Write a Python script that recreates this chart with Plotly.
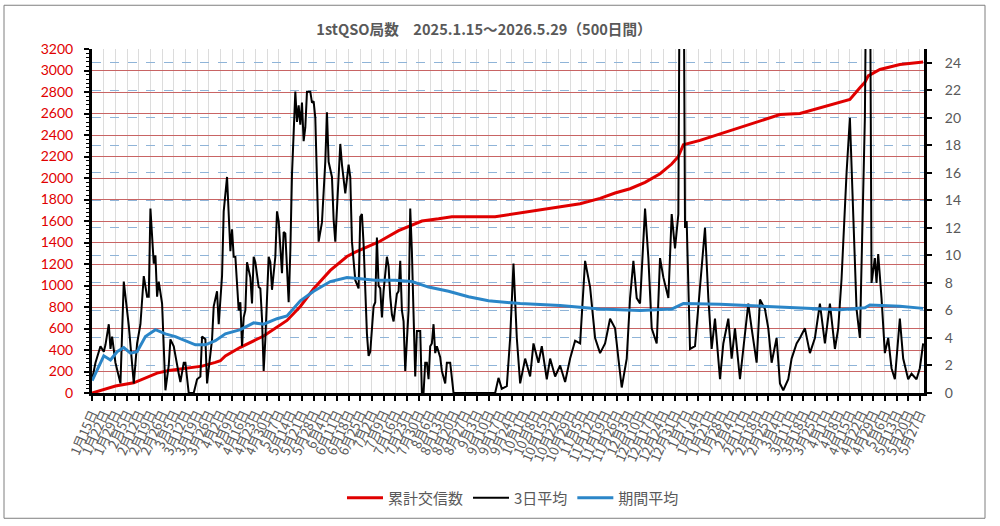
import pandas as pd
import plotly.graph_objects as go

START = pd.Timestamp("2025-01-15")
TITLE = "1stQSO局数　2025.1.15～2026.5.29（500日間）"

# 3日平均 (right axis), day offset from 2025-01-15
BLACK_DAY = [0, 2, 5, 7, 8, 10, 11, 12, 14, 17, 19, 22, 25, 27, 29, 31, 33, 34, 35, 37, 38, 39, 40, 42, 44, 46, 47, 49,
             52, 53, 55, 56, 58, 61, 63, 65, 66, 68, 69, 71, 72, 73, 75, 76, 78, 79, 81, 83, 84, 85, 86, 88, 89, 90, 91,
             92, 93, 95, 96, 97, 98, 100, 101, 102, 103, 104, 106, 107, 108, 110, 111, 112, 114, 115, 116, 118, 119, 120,
             122, 123, 124, 125, 126, 127, 128, 129, 131, 132, 133, 134, 135, 136, 138, 139, 140, 141, 142, 144, 145, 146,
             148, 149, 150, 152, 154, 155, 156, 157, 158, 160, 161, 162, 163, 165, 166, 167, 169, 170, 171, 172, 173, 174,
             175, 177, 178, 179, 180, 181, 183, 184, 185, 186, 187, 188, 190, 191, 192, 193, 194, 195, 197, 198, 199, 200,
             201, 202, 203, 204, 205, 206, 207, 209, 210, 212, 213, 215, 216, 217, 242, 244, 246, 249, 251, 253, 255, 257,
             260, 263, 265, 268, 270, 273, 275, 278, 281, 284, 287, 290, 293, 296, 299, 302, 305, 308, 311, 314, 316, 318,
             321, 323, 325, 327, 329, 332, 334, 336, 339, 341, 343, 346, 348, 350, 352, 353, 355, 356, 357, 359, 362, 365,
             368, 370, 372, 374, 377, 379, 382, 384, 386, 389, 391, 394, 396, 399, 401, 404, 406, 408, 411, 413, 415, 418,
             420, 423, 425, 428, 431, 434, 437, 440, 443, 446, 448, 450, 453, 455, 457, 459, 461, 463, 464, 465, 467, 468,
             470, 471, 472, 474, 476, 478, 480, 482, 485, 487, 490, 492, 495, 497, 499]
BLACK_VAL = [1.0, 2.2, 3.4, 3.0, 3.5, 5.0, 3.2, 4.1, 2.2, 0.7, 8.1, 4.9, 0.7, 3.6, 5.0, 8.5, 7.0, 7.0, 13.4, 9.4, 10.0,
             7.0, 8.1, 6.5, 0.2, 2.0, 3.9, 3.4, 1.4, 0.8, 2.2, 2.2, 0.0, 0.0, 1.0, 1.2, 4.1, 3.9, 0.7, 3.0, 3.9, 6.3, 7.4,
             5.0, 8.5, 13.2, 15.7, 10.3, 11.9, 9.9, 9.9, 6.0, 6.6, 3.4, 5.5, 6.0, 9.5, 8.4, 6.5, 9.9, 9.5, 7.7, 7.6, 5.4,
             1.6, 3.9, 9.9, 9.5, 7.5, 9.9, 13.2, 12.5, 8.7, 11.7, 11.6, 6.6, 10.3, 15.9, 21.9, 19.7, 20.9, 19.5, 21.1,
             18.3, 19.3, 21.9, 21.9, 21.1, 21.2, 20.0, 15.7, 11.0, 12.4, 14.3, 16.8, 20.4, 16.8, 15.7, 12.6, 11.0, 15.9,
             18.1, 16.6, 14.5, 16.6, 15.7, 11.0, 9.5, 8.2, 7.6, 12.8, 13.0, 10.8, 4.3, 2.7, 3.0, 6.3, 6.6, 11.3, 7.8, 7.6,
             5.5, 7.4, 9.9, 9.2, 7.0, 5.7, 5.2, 7.2, 7.4, 9.6, 6.0, 5.2, 1.6, 6.0, 13.4, 10.3, 5.7, 1.2, 4.5, 4.5, 0.0,
             0.0, 2.2, 2.2, 1.0, 3.4, 3.6, 5.0, 2.9, 3.4, 2.6, 1.6, 0.7, 2.2, 2.2, 1.0, 0.0, 0.0, 1.1, 0.3, 0.5, 4.0, 9.4,
             4.0, 0.7, 2.5, 1.2, 3.6, 2.2, 3.4, 1.0, 2.5, 1.2, 2.0, 0.8, 2.5, 3.8, 3.6, 9.6, 7.7, 4.0, 2.9, 3.6, 5.4, 4.7,
             2.5, 0.4, 2.5, 6.9, 9.6, 6.9, 6.5, 13.4, 9.8, 4.7, 3.6, 9.8, 8.4, 6.9, 13.0, 10.5, 13.0, 36.0, 36.0, 12.0,
             12.5, 3.2, 3.4, 7.7, 12.0, 6.9, 3.2, 5.4, 1.0, 3.6, 5.4, 2.5, 4.7, 1.0, 3.2, 6.5, 4.7, 2.2, 6.8, 6.1, 4.7,
             2.2, 4.0, 0.7, 0.2, 1.0, 2.5, 3.6, 4.0, 4.7, 2.9, 4.0, 6.5, 3.6, 6.5, 3.2, 4.7, 8.3, 16.0, 20.0, 13.0, 6.1,
             4.0, 14.0, 20.0, 34.0, 34.0, 8.0, 9.8, 8.0, 10.1, 6.9, 2.9, 4.0, 1.8, 1.0, 5.4, 2.5, 1.0, 1.4, 1.0, 1.8, 3.6]

# 累計交信数 (left axis)
CUM_DAY = [0, 14, 25, 32, 39, 46, 56, 66, 74, 77, 80, 89, 103, 117, 125, 133, 143, 153, 158, 161, 172, 184, 198, 208,
           216, 242, 251, 257, 275, 293, 305, 314, 323, 332, 341, 348, 352, 355, 365, 377, 392, 401, 413, 425, 437, 449,
           455, 461, 464, 466, 473, 485, 499]
CUM_VAL = [0, 65, 95, 140, 185, 210, 230, 250, 285, 300, 345, 425, 530, 675, 805, 970, 1140, 1270, 1310, 1330, 1405,
           1510, 1600, 1620, 1640, 1640, 1660, 1680, 1720, 1760, 1810, 1860, 1900, 1960, 2040, 2130, 2200, 2310, 2350,
           2410, 2480, 2530, 2590, 2600, 2650, 2700, 2730, 2840, 2890, 2950, 3010, 3055, 3080]

# 期間平均 (right axis)
AVG_DAY = [0, 4, 7, 11, 15, 19, 23, 27, 32, 38, 44, 50, 56, 62, 68, 74, 80, 89, 97, 103, 111, 117, 125, 133, 143, 153,
           161, 170, 182, 192, 202, 214, 226, 238, 257, 281, 305, 329, 348, 355, 377, 401, 425, 449, 464, 467, 485, 499]
AVG_VAL = [0.9, 2.0, 2.7, 2.4, 3.0, 3.3, 2.9, 3.0, 4.1, 4.6, 4.3, 4.1, 3.8, 3.5, 3.5, 3.8, 4.3, 4.6, 5.1, 5.0, 5.4, 5.6,
           6.7, 7.4, 8.1, 8.4, 8.3, 8.2, 8.2, 8.1, 7.7, 7.4, 7.0, 6.7, 6.5, 6.35, 6.1, 6.0, 6.1, 6.5, 6.45, 6.3, 6.15,
           6.05, 6.2, 6.4, 6.3, 6.15]

TICK_DATES = list(pd.date_range("2025-01-15", "2026-05-27", freq="7D"))
TICK_TEXT = [f"{d.month}月{d.day}日" for d in TICK_DATES]


def to_dates(days):
    return [START + pd.Timedelta(days=d) for d in days]


JP = "Noto Sans CJK JP"
GRAY = "#595959"

fig = go.Figure()
fig.add_trace(go.Scatter(x=to_dates(CUM_DAY), y=CUM_VAL, name="累計交信数", mode="lines",
                         line=dict(color="#E00000", width=3), yaxis="y"))
fig.add_trace(go.Scatter(x=to_dates(BLACK_DAY), y=BLACK_VAL, name="3日平均", mode="lines",
                         line=dict(color="#000000", width=2), yaxis="y2"))
fig.add_trace(go.Scatter(x=to_dates(AVG_DAY), y=AVG_VAL, name="期間平均", mode="lines",
                         line=dict(color="#2B86C8", width=3), yaxis="y2"))

fig.update_layout(
    width=1000, height=526,
    margin=dict(l=92, r=76, t=49, b=131),
    paper_bgcolor="white", plot_bgcolor="white",
    font=dict(family=JP, color=GRAY),
    title=dict(text=f"<b>{TITLE}</b>", x=0.484, xanchor="center", y=1 - 30 / 526, yanchor="middle",
               font=dict(size=14.6, color=GRAY, family=JP)),
    showlegend=True,
    legend=dict(orientation="h", x=0.506, xanchor="center", y=-0.305, yanchor="middle",
                font=dict(size=15, color=GRAY, family=JP), bgcolor="rgba(0,0,0,0)", itemwidth=36),
    xaxis=dict(
        type="date",
        range=[START - pd.Timedelta(hours=2), START + pd.Timedelta(days=499, hours=12)],
        tickmode="array", tickvals=TICK_DATES, ticktext=TICK_TEXT, tickangle=-66,
        tickfont=dict(size=13, color=GRAY, family=JP),
        showline=True, linecolor="black", linewidth=3,
        ticks="outside", ticklen=5, tickwidth=2, tickcolor="black",
        showgrid=True, gridcolor="#DCDCDC", gridwidth=1, zeroline=False,
    ),
    yaxis=dict(
        range=[0, 3200], dtick=200, tick0=0,
        tickfont=dict(size=14, color="#E00000", family="Lato"),
        showline=True, linecolor="black", linewidth=3,
        ticks="outside", ticklen=5, tickwidth=2, tickcolor="black", ticklabelstandoff=8,
        showgrid=True, gridcolor="#C86464", gridwidth=1, zeroline=False,
        minor=dict(dtick=40, ticks="outside", ticklen=3, tickcolor="black", tickwidth=1, showgrid=False),
    ),
    yaxis2=dict(
        overlaying="y", side="right",
        range=[0, 25], dtick=2, tick0=0,
        tickfont=dict(size=14, color=GRAY, family="Lato"),
        showline=True, linecolor="black", linewidth=3,
        ticks="outside", ticklen=5, tickwidth=2, tickcolor="black", ticklabelstandoff=10,
        showgrid=True, gridcolor="#8FB4D8", gridwidth=1, griddash="dash", zeroline=False,
    ),
)

# chart-area border (Excel chart frame)
fig.add_shape(type="rect", xref="paper", yref="paper",
              x0=(4 - 92) / 832, x1=(985 - 92) / 832, y0=(395 - 521) / 346, y1=(395 - 5) / 346,
              line=dict(color="#7F7F7F", width=1), fillcolor="rgba(0,0,0,0)", layer="below")

fig.write_html("out.html")
